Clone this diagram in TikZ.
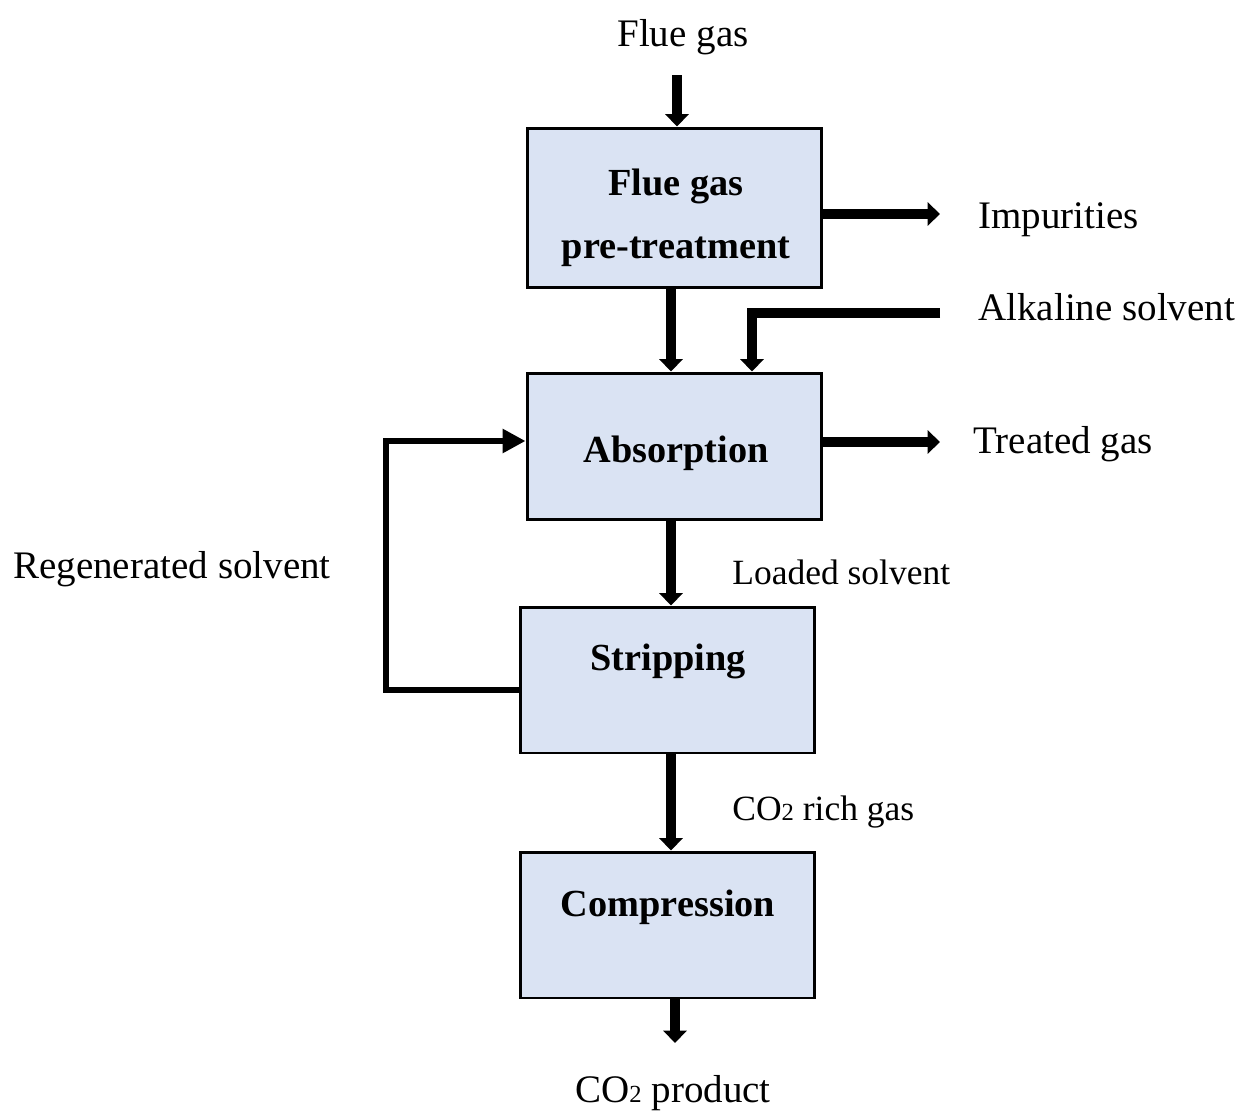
\documentclass[tikz,border=0pt]{standalone}
\usepackage{fontspec}
\setmainfont{Liberation Serif}
\usetikzlibrary{arrows.meta}
\definecolor{boxfill}{HTML}{DAE3F3}
\newcommand{\subtwo}{{\fontsize{14}{14}\selectfont 2}}
\begin{document}
\begin{tikzpicture}[x=0.02cm,y=-0.02cm,
  box/.style={draw, line width=1.7pt, fill=boxfill, minimum width=5.9cm, inner sep=0pt},
  flow/.style={line width=5.8pt, line join=miter, -{Triangle[width=13pt,length=7pt]}},
  thinflow/.style={line width=3.4pt, line join=miter, -{Triangle[width=13pt,length=13pt]}},
  lbl/.style={font=\fontsize{22.2}{26}\selectfont, inner sep=0pt},
  slbl/.style={font=\fontsize{20.2}{22}\selectfont, inner sep=0pt},
  btxt/.style={font=\bfseries\fontsize{21.8}{26}\selectfont, inner sep=0pt},
]
\useasboundingbox (0,0) rectangle (1241,1112);

% boxes
\node[box, minimum height=3.2cm]  (b1) at (674.5,208) {};
\node[box, minimum height=2.94cm] (b2) at (674.5,446.5) {};
\node[box, minimum height=2.92cm] (b3) at (667.5,680) {};
\node[box, minimum height=2.92cm] (b4) at (667.5,925) {};

% box texts
\node[btxt, anchor=base] (t1a) at (676,195) {Flue gas};
\node[btxt, anchor=base] (t1b) at (676,258) {pre-treatment};
\node[btxt, anchor=base] (t2) at (676,462) {Absorption};
\node[btxt, anchor=base] (t3) at (668,670) {Stripping};
\node[btxt, anchor=base] (t4) at (668,916) {Compression};

% outside labels
\node[lbl, anchor=base] (lflue) at (683,46) {Flue gas};
\node[lbl, anchor=base west] (limp) at (978,228) {Impurities};
\node[lbl, anchor=base west] (lalk) at (978,320) {Alkaline solvent};
\node[lbl, anchor=base west] (ltreat) at (973,453) {Treated gas};
\node[lbl, anchor=base] (lregen) at (172,578) {Regenerated solvent};
\node[slbl, anchor=base west] (lload) at (732,584) {Loaded solvent};
\node[slbl, anchor=base west] (lrich) at (732,820) {CO\subtwo{} rich gas};
\node[lbl, anchor=base] (lprod) at (673,1102) {CO\subtwo{} product};

% helper coordinates
\coordinate (cin) at (677,75);
\coordinate (c12) at (671,0);
\coordinate (cout) at (675,1043);
\coordinate (eimp) at (940,214);
\coordinate (salk) at (940,313);
\coordinate (calk) at (752,313);
\coordinate (etreat) at (940,442);
\coordinate (rg1) at (386,690);
\coordinate (rg2) at (386,441);

% connectors
\draw[flow] (cin) -- (cin |- b1.north);
\draw[flow] (b1.east |- eimp) -- (eimp);
\draw[flow] (b1.south -| c12) -- (b2.north -| c12);
\draw[flow] (salk) -- (calk) -- (calk |- b2.north);
\draw[flow] (b2.east |- etreat) -- (etreat);
\draw[flow] (b2.south -| c12) -- (b3.north -| c12);
\draw[flow] (b3.south -| c12) -- (b4.north -| c12);
\draw[flow] (b4.south -| cout) -- (cout);
\draw[thinflow] (b3.west |- rg1) -- (rg1) -- (rg2) -- (b2.west |- rg2);
\end{tikzpicture}
\end{document}
